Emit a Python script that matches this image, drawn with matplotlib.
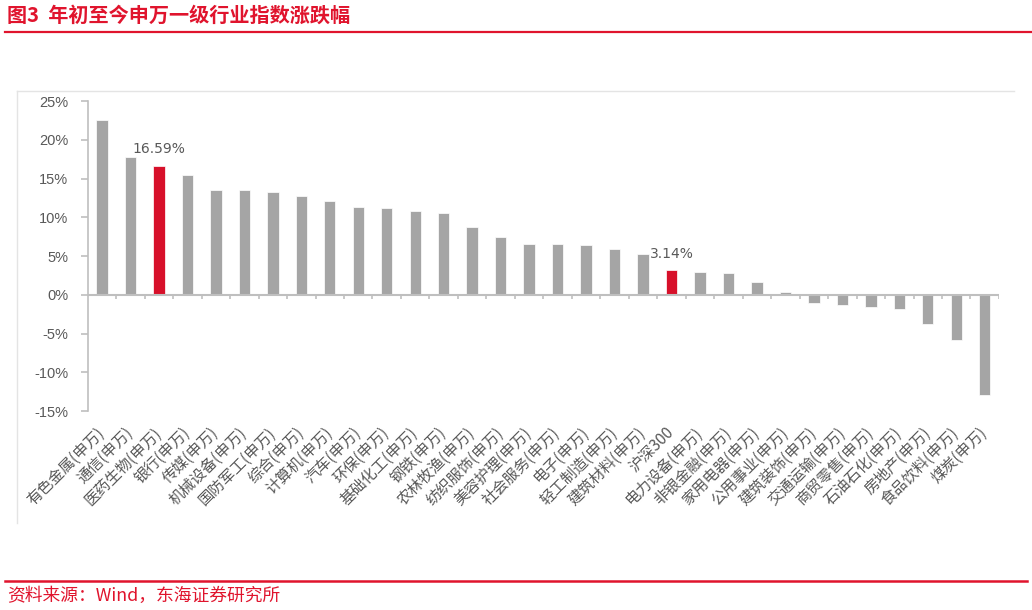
import matplotlib
matplotlib.use("Agg")
import matplotlib.pyplot as plt
import numpy as np

plt.rcParams['font.family'] = ['Noto Sans CJK SC', 'DejaVu Sans']

# =========================
# DATA
# =========================

industries = [
    "有色金属(申万)", "通信(申万)", "医药生物(申万)", "银行(申万)", "传媒(申万)",
    "机械设备(申万)", "国防军工(申万)", "综合(申万)", "计算机(申万)", "汽车(申万)",
    "环保(申万)", "基础化工(申万)", "钢铁(申万)", "农林牧渔(申万)", "纺织服饰(申万)",
    "美容护理(申万)", "社会服务(申万)", "电子(申万)", "轻工制造(申万)", "建筑材料(申万)",
    "沪深300", "电力设备(申万)", "非银金融(申万)", "家用电器(申万)", "公用事业(申万)",
    "建筑装饰(申万)", "交通运输(申万)", "商贸零售(申万)", "石油石化(申万)", "房地产(申万)",
    "食品饮料(申万)", "煤炭(申万)",
]

returns = [
    22.6, 17.8, 16.59, 15.4, 13.5,
    13.5, 13.2, 12.8, 12.1, 11.3,
    11.2, 10.8, 10.6, 8.8, 7.4,
    6.6, 6.5, 6.4, 5.9, 5.3,
    3.14, 2.95, 2.8, 1.7, 0.3,
    -1.0, -1.35, -1.6, -1.9, -3.75,
    -5.9, -12.95,
]

highlight = ["医药生物(申万)", "沪深300"]

yticks = [-15, -10, -5, 0, 5, 10, 15, 20, 25]

# =========================
# STYLE
# =========================

RED = "#D7102A"
GRAY_BAR = "#A5A5A5"
AXIS_GRAY = "#BFBFBF"
TEXT_GRAY = "#595959"

fig = plt.figure(figsize=(10.32, 6.10), dpi=100)
ax = fig.add_axes([0.085, 0.3262, 0.883, 0.5082])

x = np.arange(len(industries))
colors = [RED if name in highlight else GRAY_BAR for name in industries]
ax.bar(x, returns, width=0.4, color=colors, edgecolor="white", linewidth=0.5, zorder=2)

# value labels for highlighted bars
for i, (name, val) in enumerate(zip(industries, returns)):
    if name in highlight:
        ax.annotate(f"{val:.2f}%", (i, val), xytext=(0, 7), textcoords="offset points",
                    ha="center", va="bottom", fontsize=10, color=TEXT_GRAY,
                    family=["DejaVu Sans"])

ax.set_xlim(-0.5, len(industries) - 0.5)
ax.set_ylim(yticks[0], yticks[-1])

# zero line + boundary ticks
ax.axhline(0, color=AXIS_GRAY, linewidth=1.5, zorder=3)
bounds = np.arange(len(industries) + 1) - 0.5
ax.vlines(bounds[1:], 0, -0.55, color=AXIS_GRAY, linewidth=1.2, zorder=3)

ax.set_yticks(yticks)
ax.set_yticklabels([f"{t}%" for t in yticks], family=["Liberation Sans"],
                   fontsize=10.5, color=TEXT_GRAY)
ax.tick_params(axis="y", direction="out", length=5, width=1.2, color=AXIS_GRAY, pad=9)

ax.set_xticks(x)
ax.set_xticklabels(industries, rotation=45, ha="right", va="center",
                   rotation_mode="anchor", fontsize=11, color=TEXT_GRAY)
ax.tick_params(axis="x", length=0, pad=14)

for side in ["top", "right", "bottom"]:
    ax.spines[side].set_visible(False)
ax.spines["left"].set_color(AXIS_GRAY)
ax.spines["left"].set_linewidth(1.2)

# faint outer frame (left + top)
fig.add_artist(plt.Line2D([17 / 1032, 17 / 1032], [1 - 91 / 610, 1 - 523 / 610],
                          color="#E4E4E4", linewidth=1))
fig.add_artist(plt.Line2D([17 / 1032, 1014 / 1032], [1 - 91 / 610, 1 - 91 / 610],
                          color="#E4E4E4", linewidth=1))

# =========================
# TITLE / FOOTER
# =========================

fig.text(7 / 1032, 1 - 15 / 610, "图3  年初至今申万一级行业指数涨跌幅", color="#E0142D",
         fontsize=14.5, fontweight="bold", ha="left", va="center")
fig.add_artist(plt.Line2D([5 / 1032, 1], [1 - 32 / 610, 1 - 32 / 610],
                          color="#E0142D", linewidth=1.6))

fig.add_artist(plt.Line2D([5 / 1032, 1027 / 1032], [1 - 581 / 610, 1 - 581 / 610],
                          color="#E0142D", linewidth=1.8))
fig.text(7 / 1032, 1 - 596 / 610, "资料来源：Wind，东海证券研究所", color="#E0142D",
         fontsize=12.8, ha="left", va="center")

fig.savefig("out.png", dpi=100)
plt.close(fig)
